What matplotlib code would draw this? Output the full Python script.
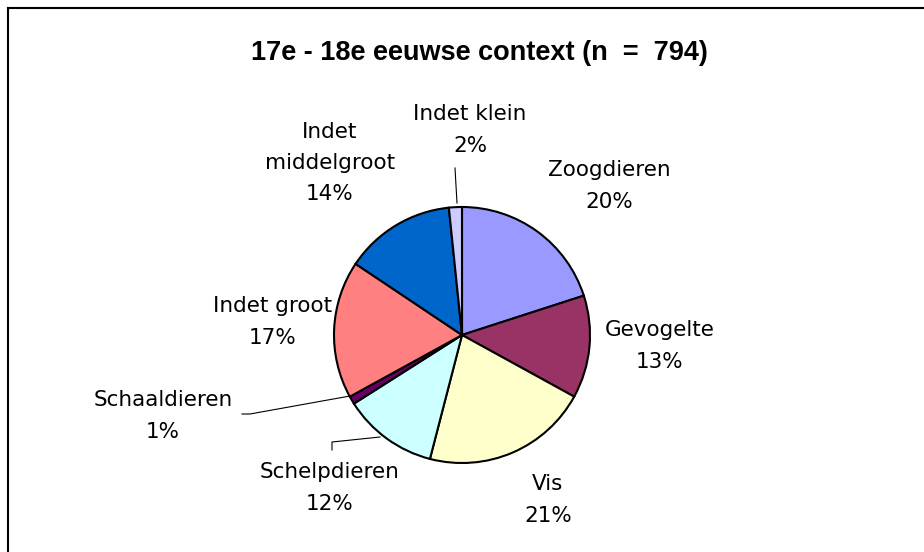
import matplotlib
matplotlib.use("Agg")
import matplotlib.pyplot as plt
from matplotlib.lines import Line2D

# counts per category (n = 794)
categories = ["Zoogdieren", "Gevogelte", "Vis", "Schelpdieren", "Schaaldieren",
              "Indet groot", "Indet\nmiddelgroot", "Indet klein"]
counts = [159, 103, 167, 95, 8, 138, 111, 13]
pct_labels = ["20%", "13%", "21%", "12%", "1%", "17%", "14%", "2%"]
colors = ["#9999FF", "#993366", "#FFFFCC", "#CCFFFF", "#660066",
          "#FF8080", "#0066CC", "#CCCCFF"]

# label anchor (pixel) for each slice
label_px = [(609, 186), (660, 346), (548, 500), (330, 488), (163, 416),
            (273, 322), (330, 163), (470, 130)]

W, H = 924, 552
cx, cy, r = 462, 335, 128

fig = plt.figure(figsize=(W / 100, H / 100), dpi=100)
ax = fig.add_axes([(cx - r) / W, (H - cy - r) / H, 2 * r / W, 2 * r / H])

ax.pie(counts, colors=colors, startangle=90, counterclock=False,
       wedgeprops=dict(edgecolor="black", linewidth=1.5))
ax.set_xlim(-1, 1)
ax.set_ylim(-1, 1)
ax.set_aspect("equal")
ax.axis("off")


def to_data(px, py):
    return (px - cx) / r, (cy - py) / r


for name, pct, (px, py) in zip(categories, pct_labels, label_px):
    x, y = to_data(px, py)
    ax.text(x, y, name + "\n" + pct, ha="center", va="center", fontsize=15.5,
            family="DejaVu Sans", linespacing=1.7, clip_on=False)

# leader lines
leaders = [
    [(350, 396), (250, 414), (242, 414)],   # Schaaldieren
    [(380, 437), (332, 442), (332, 450)],   # Schelpdieren
    [(457, 203), (455, 168)],               # Indet klein
]
for pts in leaders:
    xs, ys = zip(*[to_data(*p) for p in pts])
    ax.plot(xs, ys, color="black", linewidth=0.8, clip_on=False)

fig.text(479 / W, 1 - 53 / H, "17e - 18e eeuwse context (n  =  794)",
         ha="center", va="center", fontsize=19.5, fontweight="bold",
         family="Liberation Sans")

# chart frame (top and left edges visible)
fig.add_artist(Line2D([8 / W, 8 / W], [0, 1 - 8 / H], color="black", linewidth=1.5))
fig.add_artist(Line2D([8 / W, 1], [1 - 8 / H, 1 - 8 / H], color="black", linewidth=1.5))

fig.savefig("out.png", dpi=100, facecolor="white")
